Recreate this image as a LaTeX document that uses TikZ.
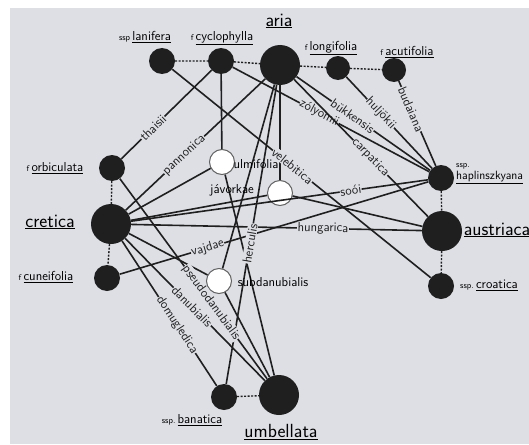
\documentclass[tikz,border=0pt]{standalone}
\usepackage{xcolor}
\usepackage{tikz}
\usetikzlibrary{arrows.meta}
\definecolor{paper}{RGB}{221,223,229}
\colorlet{ink}{black!88}
\tikzstyle{mainsp}=[circle,fill=ink,minimum size=40pt,inner sep=0pt]
\tikzstyle{infrasp}=[circle,fill=ink,minimum size=26pt,inner sep=0pt]
\tikzstyle{hybsp}=[circle,draw=ink!70,line width=1pt,fill=white,minimum size=25pt,inner sep=0pt]
\tikzstyle{link}=[ink,line width=1.6pt]
\tikzstyle{kin}=[ink,line width=1.4pt,dash pattern=on 2pt off 1.5pt]
\tikzstyle{hname}=[sloped,fill=paper,inner sep=.5pt,font=\sffamily\fontsize{13}{13}\selectfont]
\tikzstyle{tname}=[inner sep=1pt,font=\sffamily\fontsize{13}{13}\selectfont]
\tikzstyle{mainname}=[inner sep=1pt,font=\sffamily\fontsize{19}{19}\selectfont]
\newcommand\pre[1]{{\fontsize{8.5}{8.5}\selectfont #1}\,}
\newcommand\ul[1]{\underline{#1}}
\begin{document}
\begin{tikzpicture}[x=1pt,y=-1pt]
	\useasboundingbox (0,0) rectangle (529,444);
	\fill[white] (0,0) rectangle (529,444);
	\fill[paper] (10,8) rectangle (529,444);
	% taxa
	\node[infrasp] (lanifera) at (162,61) {};
	\node[infrasp] (cyclophylla) at (221,61) {};
	\node[mainsp] (aria) at (280,65) {};
	\node[infrasp,minimum size=24pt] (longifolia) at (338,68) {};
	\node[infrasp,minimum size=24pt] (acutifolia) at (394,70) {};
	\node[infrasp] (orbiculata) at (112,168) {};
	\node[mainsp] (cretica) at (111,224) {};
	\node[infrasp] (cuneifolia) at (107,278) {};
	\node[infrasp] (haplinszkyana) at (441,178) {};
	\node[mainsp] (austriaca) at (442,231) {};
	\node[infrasp] (croatica) at (441,286) {};
	\node[infrasp] (banatica) at (224,397) {};
	\node[mainsp] (umbellata) at (279,395) {};
	\node[hybsp] (ulmifolia) at (222,162) {};
	\node[hybsp] (javorkae) at (280,193) {};
	\node[hybsp] (subdanubialis) at (219,281) {};
	% kinship
	\draw[kin] (lanifera) -- (cyclophylla) -- (aria) -- (longifolia) -- (acutifolia);
	\draw[kin] (orbiculata) -- (cretica) -- (cuneifolia);
	\draw[kin] (haplinszkyana) -- (austriaca) -- (croatica);
	\draw[kin] (banatica) -- (umbellata);
	% hybrid origins
	\draw[link] (cyclophylla) -- (ulmifolia);
	\draw[link] (cretica) -- (ulmifolia);
	\draw[link] (ulmifolia) -- (umbellata);
	\draw[link] (aria) -- (javorkae);
	\draw[link] (cretica) -- (javorkae);
	\draw[link] (javorkae) -- (austriaca);
	\draw[link] (aria) -- (subdanubialis);
	\draw[link] (cretica) -- (subdanubialis);
	\draw[link] (subdanubialis) -- (umbellata);
	\draw[link] (orbiculata) -- node[hname,pos=.35]{thaisii} (cyclophylla);
	\draw[link] (cretica) -- node[hname,pos=.42]{pannonica} (aria);
	\draw[link] (lanifera) -- node[hname,pos=.465]{velebitica} (croatica);
	\draw[link] (cyclophylla) -- node[hname,pos=.44]{zólyomii} (haplinszkyana);
	\draw[link] (aria) -- node[hname,pos=.42]{bükkensis} (haplinszkyana);
	\draw[link] (longifolia) -- node[hname,pos=.40]{huljökii} (haplinszkyana);
	\draw[link] (acutifolia) -- node[hname,pos=.33]{budaiana} (haplinszkyana);
	\draw[link] (aria) -- node[hname,pos=.57]{carpatica} (austriaca);
	\draw[link] (cretica) -- node[hname,pos=.74]{soói} (haplinszkyana);
	\draw[link] (cuneifolia) -- node[hname,pos=.285]{vajdae} (haplinszkyana);
	\draw[link] (cretica) -- node[hname,pos=.66]{hungarica} (austriaca);
	\draw[link] (aria) -- node[hname,pos=.53]{herculis} (banatica);
	\draw[link] (orbiculata) -- node[hname,pos=.62]{pseudodanubialis} (umbellata);
	\draw[link] (cretica) -- node[hname,pos=.48]{danubialis} (umbellata);
	\draw[link] (cretica) -- node[hname,pos=.58]{domugledica} (banatica);
	% names
	\node[tname] (lanifera-l) at (145,37) {\pre{ssp}\ul{lanifera}};
	\node[tname] (cyclophylla-l) at (222,38) {\pre{f}\ul{cyclophylla}};
	\node[mainname] (aria-l) at (279,21) {\ul{aria}};
	\node[tname] (longifolia-l) at (331,48) {\pre{f}\ul{longifolia}};
	\node[tname] (acutifolia-l) at (407,52) {\pre{f}\ul{acutifolia}};
	\node[tname] (orbiculata-l) at (55,168) {\pre{f}\ul{orbiculata}};
	\node[mainname] (cretica-l) at (50,222) {\ul{cretica}};
	\node[tname] (cuneifolia-l) at (46,277) {\pre{f}\ul{cuneifolia}};
	\node[tname,anchor=west,align=left,font=\sffamily\fontsize{12}{12}\selectfont] (haplinszkyana-l) at (455,174) {\pre{ssp.}\\\ul{haplinszkyana}};
	\node[mainname] (austriaca-l) at (497,230) {\ul{austriaca}};
	\node[tname] (croatica-l) at (489,285) {\pre{ssp.}\ul{croatica}};
	\node[tname] (banatica-l) at (192,420) {\pre{ssp.}\ul{banatica}};
	\node[mainname] (umbellata-l) at (281,432) {\ul{umbellata}};
	\node[tname] (ulmifolia-l) at (256,164) {ulmifolia};
	\node[tname] (javorkae-l) at (232,190) {jávorkae};
	\node[tname] (subdanubialis-l) at (273,282) {subdanubialis};
\end{tikzpicture}
\end{document}
